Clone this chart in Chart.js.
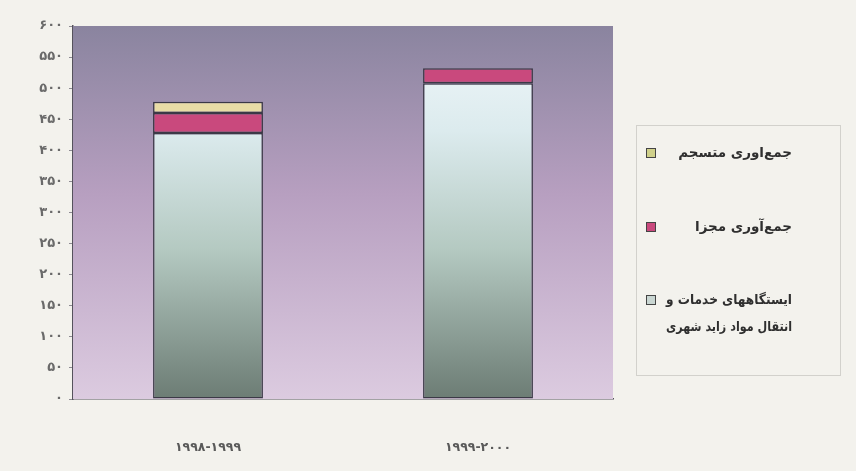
<!DOCTYPE html>
<html lang="fa">
<head>
<meta charset="utf-8">
<script src="https://cdn.jsdelivr.net/npm/chart.js@4/dist/chart.umd.min.js"></script>
<style>
  html, body { margin: 0; padding: 0; background: #f3f2ed; }
  #wrap { width: 856px; height: 471px; position: relative; }
</style>
</head>
<body>
<div id="wrap"><canvas id="c" width="856" height="471"></canvas></div>
<script>
// Waste handling capacity by year (stacked)
const categories = ['۱۹۹۸-۱۹۹۹', '۱۹۹۹-۲۰۰۰'];
const stationValues = [428, 508];   // ایستگاههای خدمات و انتقال مواد زاید شهری
const separateValues = [32, 24];    // جمع‌آوری مجزا
const mixedValues = [18, 0];        // جمع‌اوری متسجم
const yMin = 0, yMax = 600, yStep = 50;

const faDigits = s => String(s).replace(/\d/g, d => '۰۱۲۳۴۵۶۷۸۹'[d]);
const FONT = '"DejaVu Sans", sans-serif';

// vertical gradient for the bottom series
function stationFill(ctx) {
  const chart = ctx.chart, a = chart.chartArea;
  if (!a) return '#c8dcd8';
  const g = chart.ctx.createLinearGradient(0, a.top, 0, a.bottom);
  g.addColorStop(0.0, '#f2f8fa');
  g.addColorStop(0.28, '#dcebee');
  g.addColorStop(0.6, '#b4c9c1');
  g.addColorStop(1.0, '#6c7c74');
  return g;
}

// no outline for empty segments
const edge = ctx => (ctx.raw ? 1.5 : 0);

// plot-area background
const plotBg = {
  id: 'plotBg',
  beforeDatasetsDraw(chart) {
    const { ctx, chartArea: a } = chart;
    const g = ctx.createLinearGradient(0, a.top, 0, a.bottom);
    g.addColorStop(0, '#8a849f');
    g.addColorStop(0.45, '#b79fc0');
    g.addColorStop(1, '#dccbe0');
    ctx.save();
    ctx.fillStyle = g;
    ctx.fillRect(a.left, a.top, a.right - a.left, a.bottom - a.top);
    ctx.restore();
  }
};

// boxed legend on the right, top item = top of stack
const boxLegend = {
  id: 'boxLegend',
  afterDraw(chart) {
    const ctx = chart.ctx;
    const ds = chart.data.datasets.slice().reverse();
    const rowsY = [153, 227, 300];
    ctx.save();
    ctx.strokeStyle = '#d2d1cc';
    ctx.lineWidth = 1;
    ctx.strokeRect(636.5, 125.5, 204, 250);
    ds.forEach((d, i) => {
      const y = rowsY[i];
      ctx.fillStyle = d.legendColor;
      ctx.strokeStyle = '#444';
      ctx.lineWidth = 1;
      ctx.fillRect(646, y - 5, 10, 10);
      ctx.strokeRect(646.5, y - 4.5, 9, 9);
      const lines = Array.isArray(d.label) ? d.label : [d.label];
      ctx.fillStyle = '#2f2f2f';
      ctx.font = 'bold 13.5px ' + FONT;
      ctx.direction = 'rtl';
      ctx.textAlign = 'right';
      ctx.textBaseline = 'middle';
      lines.forEach((t, k) => ctx.fillText(t, 792, y + k * 27, 126));
    });
    ctx.restore();
  }
};

new Chart(document.getElementById('c'), {
  type: 'bar',
  data: {
    labels: categories,
    datasets: [
      {
        label: ['ایستگاههای خدمات و', 'انتقال مواد زاید شهری'],
        data: stationValues,
        backgroundColor: stationFill,
        legendColor: '#c9d6d2',
        borderColor: '#3b3946',
        borderWidth: edge,
        borderSkipped: false
      },
      {
        label: 'جمع‌آوری مجزا',
        data: separateValues,
        backgroundColor: '#c9497d',
        legendColor: '#c9497d',
        borderColor: '#3b3946',
        borderWidth: edge,
        borderSkipped: false
      },
      {
        label: 'جمع‌اوری متسجم',
        data: mixedValues,
        backgroundColor: '#e9dda6',
        legendColor: '#cfd08a',
        borderColor: '#3b3946',
        borderWidth: edge,
        borderSkipped: false
      }
    ]
  },
  options: {
    responsive: false,
    animation: false,
    events: [],
    layout: { padding: { top: 26, right: 243, left: 0, bottom: 0 } },
    datasets: { bar: { categoryPercentage: 1, barPercentage: 0.407 } },
    plugins: { legend: { display: false }, tooltip: { enabled: false } },
    scales: {
      x: {
        stacked: true,
        grid: { display: false, drawTicks: false },
        border: { display: true, color: '#55525c', width: 1.5 },
        ticks: { padding: 41, color: '#5a5a5a', font: { family: FONT, size: 12.5, weight: 'bold' } },
        afterFit(s) { s.height = 72; }
      },
      y: {
        stacked: true,
        min: yMin, max: yMax,
        grid: { drawOnChartArea: false, drawTicks: true, tickLength: 4, color: '#8d8a92' },
        border: { display: true, color: '#55525c', width: 1.5 },
        ticks: {
          stepSize: yStep,
          padding: 6,
          color: '#6a6a6a',
          font: { family: FONT, size: 13, weight: 'bold' },
          callback: v => faDigits(v)
        },
        afterFit(s) { s.width = 73; }
      }
    }
  },
  plugins: [plotBg, boxLegend]
});
</script>
</body>
</html>
